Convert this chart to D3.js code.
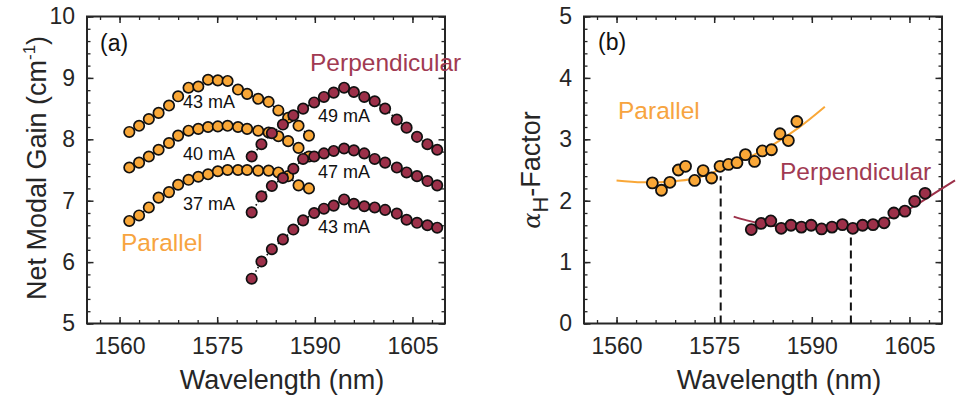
<!DOCTYPE html>
<html>
<head>
<meta charset="utf-8">
<script src="https://cdn.jsdelivr.net/npm/d3@7"></script>
<style>
  html, body { margin: 0; padding: 0; background: #fff; }
  svg { display: block; font-family: "Liberation Sans", Arial, sans-serif; }
</style>
</head>
<body>
<svg id="chart" width="967" height="401"></svg>
<script>
// ---------------- data ----------------
const xMajorTicks = [1560, 1575, 1590, 1605];
const gainTicks = [5, 6, 7, 8, 9, 10];
const alphaTicks = [0, 1, 2, 3, 4, 5];

// Panel (a): net modal gain
const parWl = [1561.5, 1563.0, 1564.5, 1566.0, 1567.6, 1569.0, 1570.6, 1572.1, 1573.6, 1575.1,
               1576.6, 1578.2, 1579.6, 1581.3, 1582.9, 1584.4, 1585.9, 1587.5, 1589.1];
const par43 = [8.12, 8.22, 8.33, 8.43, 8.55, 8.70, 8.84, 8.86, 8.97, 8.96,
               8.95, 8.81, 8.74, 8.66, 8.61, 8.47, 8.35, 8.22, 8.06];
const par40 = [7.54, 7.62, 7.72, 7.83, 7.94, 8.06, 8.14, 8.17, 8.20, 8.21,
               8.22, 8.20, 8.17, 8.14, 8.11, 8.05, 7.97, 7.86, 7.72];
const par37 = [6.67, 6.76, 6.89, 7.05, 7.14, 7.26, 7.34, 7.39, 7.43, 7.48,
               7.50, 7.50, 7.50, 7.49, 7.49, 7.46, 7.40, 7.25, 7.20];

const perWl = [1580.3, 1581.8, 1583.4, 1585.1, 1586.7, 1588.2, 1589.9, 1591.4, 1592.9, 1594.5,
               1596.0, 1597.6, 1599.2, 1600.8, 1602.6, 1604.1, 1605.7, 1607.3, 1608.8];
const per49 = [7.72, 7.92, 8.10, 8.24, 8.39, 8.50, 8.60, 8.69, 8.76, 8.84,
               8.77, 8.69, 8.62, 8.50, 8.32, 8.19, 8.04, 7.92, 7.83];
const per47 = [6.81, 7.07, 7.24, 7.37, 7.52, 7.68, 7.72, 7.77, 7.81, 7.85,
               7.82, 7.77, 7.68, 7.62, 7.54, 7.46, 7.40, 7.32, 7.25];
const per43 = [5.73, 6.01, 6.21, 6.37, 6.53, 6.68, 6.80, 6.87, 6.92, 7.02,
               6.95, 6.91, 6.89, 6.85, 6.79, 6.69, 6.64, 6.60, 6.56];

// Panel (b): alpha-H factor
const aParWl = [1565.5, 1566.9, 1568.2, 1569.5, 1570.6, 1572.0, 1573.3, 1574.6, 1575.9,
                1577.2, 1578.5, 1579.8, 1581.2, 1582.4, 1583.8, 1585.1, 1586.4, 1587.7];
const aPar   = [2.29, 2.17, 2.30, 2.50, 2.56, 2.33, 2.49, 2.37, 2.56,
                2.59, 2.62, 2.75, 2.64, 2.81, 2.83, 3.09, 2.98, 3.29];
const aPerWl = [1580.7, 1582.2, 1583.7, 1585.3, 1586.8, 1588.4, 1589.9, 1591.5, 1593.1,
                1594.7, 1596.3, 1597.8, 1599.4, 1601.1, 1602.6, 1604.3, 1605.8, 1607.4];
const aPer   = [1.53, 1.63, 1.67, 1.55, 1.60, 1.57, 1.60, 1.54, 1.57,
                1.61, 1.55, 1.60, 1.61, 1.64, 1.80, 1.83, 1.99, 2.12];

const fitParWl = [1560, 1564, 1568, 1572, 1576, 1580, 1584, 1588, 1592];
const fitPar   = [2.33, 2.30, 2.31, 2.36, 2.51, 2.69, 2.91, 3.19, 3.53];
const fitPerWl = [1578, 1580, 1583, 1586, 1590, 1594, 1597, 1600, 1603, 1606, 1609, 1612];
const fitPer   = [1.74, 1.68, 1.61, 1.57, 1.55, 1.55, 1.58, 1.65, 1.76, 1.93, 2.13, 2.33];

const markerWl  = [1576, 1596];
const markerTop = [2.40, 1.53];

// ---------------- style ----------------
const ORANGE = "#F9A737", MAROON = "#9C3049";
const ORANGE_T = "#F7A440", MAROON_T = "#A13A52";
const AXIS = "#262626";

const svg = d3.select("#chart");
const PTOP = 16.5, PBOT = 323.5;

function panel(left, right, yDomain, yMajor, yMinorStep) {
  const x = d3.scaleLinear().domain([1555, 1610]).range([left, right]);
  const y = d3.scaleLinear().domain(yDomain).range([PBOT, PTOP]);
  const g = svg.append("g");
  const xMinor = d3.range(1557, 1610, 3);
  const yMinor = d3.range(yDomain[0], yDomain[1] + 1e-9, yMinorStep).map(v => +v.toFixed(3));

  const axes = [
    {ax: () => d3.axisBottom(x), t: `translate(0,${PBOT})`, labels: true, dir: "x"},
    {ax: () => d3.axisTop(x), t: `translate(0,${PTOP})`, labels: false, dir: "x"},
    {ax: () => d3.axisLeft(y), t: `translate(${left},0)`, labels: true, dir: "y"},
    {ax: () => d3.axisRight(y), t: `translate(${right},0)`, labels: false, dir: "y"}
  ];
  axes.forEach(a => {
    const minor = a.dir === "x" ? xMinor : yMinor;
    const major = a.dir === "x" ? xMajorTicks : yMajor;
    const ng = g.append("g").attr("transform", a.t)
      .call(a.ax().tickValues(minor).tickSize(-3.5).tickFormat(""));
    ng.select(".domain").remove();
    ng.selectAll("line").attr("stroke", AXIS).attr("stroke-width", 1.3);
    const mg = g.append("g").attr("transform", a.t)
      .call(a.ax().tickValues(major).tickSize(-6.5).tickPadding(a.dir === "x" ? 14 : 12)
                 .tickFormat(a.labels ? d3.format("d") : ""));
    mg.select(".domain").remove();
    mg.selectAll("line").attr("stroke", AXIS).attr("stroke-width", 1.5);
    mg.selectAll("text").attr("fill", AXIS).attr("font-size", 23)
      .attr("font-family", "'Liberation Sans', Arial, sans-serif");
  });
  g.append("rect").attr("x", left).attr("y", PTOP)
    .attr("width", right - left).attr("height", PBOT - PTOP)
    .attr("fill", "none").attr("stroke", AXIS).attr("stroke-width", 2);

  g.append("text").attr("x", (left + right) / 2 + 16).attr("y", 389)
    .attr("text-anchor", "middle").attr("font-size", 27).attr("fill", AXIS)
    .text("Wavelength (nm)");
  return {x, y, g};
}

function dots(P, wl, vals, color) {
  const pts = wl.map((w, i) => [w, vals[i]]);
  P.g.append("path")
    .attr("d", d3.line().x(d => P.x(d[0])).y(d => P.y(d[1]))(pts))
    .attr("fill", "none").attr("stroke", "#111").attr("stroke-width", 1.6)
    .attr("stroke-dasharray", "1.6,2.4");
  P.g.append("g").selectAll("circle").data(pts).join("circle")
    .attr("cx", d => P.x(d[0])).attr("cy", d => P.y(d[1])).attr("r", 5.2)
    .attr("fill", color).attr("stroke", "#111").attr("stroke-width", 1.7);
}

function label(x, y, txt, size, color) {
  svg.append("text").attr("x", x).attr("y", y).attr("font-size", size)
    .attr("fill", color).text(txt);
}

// ---------------- panel (a) ----------------
const A = panel(87, 445, [5, 10], gainTicks, 0.2);
dots(A, parWl, par43, ORANGE);
dots(A, parWl, par40, ORANGE);
dots(A, parWl, par37, ORANGE);
dots(A, perWl, per49, MAROON);
dots(A, perWl, per47, MAROON);
dots(A, perWl, per43, MAROON);

label(100, 51, "(a)", 23, "#111");
label(183, 108, "43 mA", 18, "#111");
label(183, 160, "40 mA", 18, "#111");
label(183, 210, "37 mA", 18, "#111");
label(318, 122, "49 mA", 18, "#111");
label(318, 178, "47 mA", 18, "#111");
label(318, 233, "43 mA", 18, "#111");
label(121, 251, "Parallel", 24.5, ORANGE_T);
label(310, 71, "Perpendicular", 24.5, MAROON_T);

const yl = svg.append("text").attr("transform", "translate(46,168) rotate(-90)")
  .attr("text-anchor", "middle").attr("font-size", 27).attr("fill", AXIS);
yl.append("tspan").text("Net Modal Gain (cm");
yl.append("tspan").attr("dy", -11).attr("font-size", 17).text("-1");
yl.append("tspan").attr("dy", 11).text(")");

// ---------------- panel (b) ----------------
const B = panel(584, 942, [0, 5], alphaTicks, 0.2);

const fitLine = d3.line().curve(d3.curveCatmullRom).x(d => B.x(d[0])).y(d => B.y(d[1]));
B.g.append("path").attr("d", fitLine(fitParWl.map((w, i) => [w, fitPar[i]])))
  .attr("fill", "none").attr("stroke", ORANGE).attr("stroke-width", 2);
B.g.append("path").attr("d", fitLine(fitPerWl.map((w, i) => [w, fitPer[i]])))
  .attr("fill", "none").attr("stroke", MAROON).attr("stroke-width", 2);

B.g.selectAll("line.mark").data(markerWl).join("line")
  .attr("class", "mark")
  .attr("x1", d => B.x(d)).attr("x2", d => B.x(d))
  .attr("y1", B.y(0)).attr("y2", (d, i) => B.y(markerTop[i]))
  .attr("stroke", "#111").attr("stroke-width", 2).attr("stroke-dasharray", "8,5");

function pts(P, wl, vals, color) {
  P.g.append("g").selectAll("circle").data(wl.map((w, i) => [w, vals[i]])).join("circle")
    .attr("cx", d => P.x(d[0])).attr("cy", d => P.y(d[1])).attr("r", 5.5)
    .attr("fill", color).attr("stroke", "#111").attr("stroke-width", 1.8);
}
pts(B, aParWl, aPar, ORANGE);
pts(B, aPerWl, aPer, MAROON);

label(598, 50, "(b)", 23, "#111");
label(618, 119, "Parallel", 24.5, ORANGE_T);
label(780, 180, "Perpendicular", 24.5, MAROON_T);

const al = svg.append("text").attr("transform", "translate(540,170) rotate(-90)")
  .attr("text-anchor", "middle").attr("font-size", 27).attr("fill", AXIS);
al.append("tspan").attr("font-family", "'DejaVu Serif', serif").attr("font-style", "italic")
  .attr("font-size", 24).text("α");
al.append("tspan").attr("dy", 8).attr("font-size", 22).text("H");
al.append("tspan").attr("dy", -8).text("-Factor");
</script>
</body>
</html>
